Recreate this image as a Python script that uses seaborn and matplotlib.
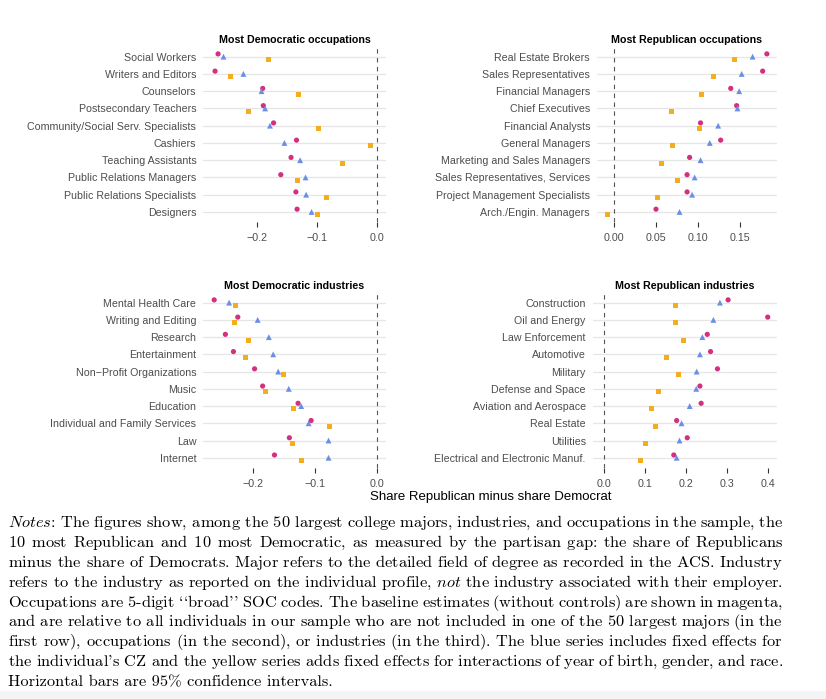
import numpy as np
import pandas as pd
import matplotlib
matplotlib.use("Agg")
import matplotlib.pyplot as plt
import seaborn as sns
from matplotlib.patches import Rectangle

# ---------------- data ----------------
series_names = ["Baseline", "CZ FE", "CZ + demographic FE"]

dem_occ = ["Social Workers", "Writers and Editors", "Counselors", "Postsecondary Teachers",
           "Community/Social Serv. Specialists", "Cashiers", "Teaching Assistants",
           "Public Relations Managers", "Public Relations Specialists", "Designers"]
dem_occ_base = [-0.264, -0.269, -0.190, -0.189, -0.172, -0.134, -0.143, -0.160, -0.135, -0.133]
dem_occ_cz = [-0.255, -0.222, -0.192, -0.186, -0.178, -0.154, -0.128, -0.119, -0.118, -0.109]
dem_occ_demo = [-0.180, -0.244, -0.130, -0.214, -0.097, -0.011, -0.057, -0.133, -0.084, -0.099]

rep_occ = ["Real Estate Brokers", "Sales Representatives", "Financial Managers", "Chief Executives",
           "Financial Analysts", "General Managers", "Marketing and Sales Managers",
           "Sales Representatives, Services", "Project Management Specialists",
           "Arch./Engin. Managers"]
rep_occ_base = [0.182, 0.177, 0.139, 0.146, 0.103, 0.127, 0.090, 0.087, 0.087, 0.050]
rep_occ_cz = [0.165, 0.152, 0.149, 0.147, 0.124, 0.114, 0.103, 0.096, 0.093, 0.078]
rep_occ_demo = [0.143, 0.119, 0.104, 0.069, 0.102, 0.070, 0.057, 0.076, 0.052, -0.008]

dem_ind = ["Mental Health Care", "Writing and Editing", "Research", "Entertainment",
           "Non\u2212Profit Organizations", "Music", "Education",
           "Individual and Family Services", "Law", "Internet"]
dem_ind_base = [-0.262, -0.224, -0.244, -0.231, -0.197, -0.184, -0.127, -0.106, -0.141, -0.165]
dem_ind_cz = [-0.238, -0.192, -0.174, -0.167, -0.159, -0.142, -0.122, -0.110, -0.078, -0.078]
dem_ind_demo = [-0.227, -0.230, -0.206, -0.211, -0.151, -0.180, -0.135, -0.076, -0.136, -0.122]

rep_ind = ["Construction", "Oil and Energy", "Law Enforcement", "Automotive", "Military",
           "Defense and Space", "Aviation and Aerospace", "Real Estate", "Utilities",
           "Electrical and Electronic Manuf."]
rep_ind_base = [0.303, 0.400, 0.252, 0.260, 0.277, 0.234, 0.237, 0.177, 0.203, 0.170]
rep_ind_cz = [0.283, 0.267, 0.240, 0.234, 0.226, 0.225, 0.209, 0.189, 0.184, 0.177]
rep_ind_demo = [0.175, 0.175, 0.195, 0.152, 0.181, 0.132, 0.115, 0.125, 0.100, 0.088]

ticks_dem = [-0.2, -0.1, 0.0]
ticks_rep_occ = [0.00, 0.05, 0.10, 0.15]
ticks_rep_ind = [0.0, 0.1, 0.2, 0.3, 0.4]

titles = ["Most Democratic occupations", "Most Republican occupations",
          "Most Democratic industries", "Most Republican industries"]
xlabel = "Share Republican minus share Democrat"

note_lines = [
    ["$\\mathit{Notes}$:", "The", "figures", "show,", "among", "the", "50", "largest", "college", "majors,",
     "industries,", "and", "occupations", "in", "the", "sample,", "the"],
    "10 most Republican and 10 most Democratic, as measured by the partisan gap: the share of Republicans".split(),
    "minus the share of Democrats. Major refers to the detailed field of degree as recorded in the ACS. Industry".split(),
    ["refers", "to", "the", "industry", "as", "reported", "on", "the", "individual", "profile,",
     "$\\mathit{not}$", "the", "industry", "associated", "with", "their", "employer."],
    "Occupations are 5-digit ``broad'' SOC codes. The baseline estimates (without controls) are shown in magenta,".split(),
    "and are relative to all individuals in our sample who are not included in one of the 50 largest majors (in the".split(),
    "first row), occupations (in the second), or industries (in the third). The blue series includes fixed effects for".split(),
    "the individual's CZ and the yellow series adds fixed effects for interactions of year of birth, gender, and race.".split(),
    "Horizontal bars are 95% confidence intervals.".split(),
]

# ---------------- style ----------------
sns.set_theme(style="white")
plt.rcParams["font.family"] = ["Liberation Sans", "DejaVu Sans"]
plt.rcParams["mathtext.fontset"] = "cm"

W, H = 826, 699
fig = plt.figure(figsize=(W / 100, H / 100), dpi=100)
fig.patch.set_facecolor("white")

palette = {"Baseline": "#D3307F", "CZ FE": "#6B8FE8", "CZ + demographic FE": "#F5AC1E"}
markers = {"Baseline": "o", "CZ FE": "^", "CZ + demographic FE": "s"}
sizes = {"Baseline": 14, "CZ FE": 18, "CZ + demographic FE": 13}
offsets = {"Baseline": -0.16, "CZ FE": 0.0, "CZ + demographic FE": 0.17}

panels = [
    (dem_occ, dem_occ_base, dem_occ_cz, dem_occ_demo, ticks_dem, (-0.289, 0.0144), (203, 386, 46.3, 222.3)),
    (rep_occ, rep_occ_base, rep_occ_cz, rep_occ_demo, ticks_rep_occ, (-0.0206, 0.1937), (596.7, 776.7, 46.3, 222.3)),
    (dem_ind, dem_ind_base, dem_ind_cz, dem_ind_demo, ticks_dem, (-0.280, 0.0145), (203, 386, 292.3, 468.1)),
    (rep_ind, rep_ind_base, rep_ind_cz, rep_ind_demo, ticks_rep_ind, (-0.029, 0.422), (592.5, 776.7, 292.3, 468.1)),
]

label_col = "#4D4D4D"
fs = 7.7

for (cats, b, c, d, ticks, xlim, (x0, x1, yt, yb)), title in zip(panels, titles):
    ax = fig.add_axes([x0 / W, 1 - yb / H, (x1 - x0) / W, (yb - yt) / H])
    rows = []
    for s, vals in zip(series_names, [b, c, d]):
        for i, (cat, v) in enumerate(zip(cats, vals)):
            rows.append({"category": cat, "series": s, "value": v, "pos": i + offsets[s]})
    df = pd.DataFrame(rows)
    ax.axvline(0, color="#555555", lw=0.8, ls=(0, (4, 4)), zorder=1)
    sns.scatterplot(data=df, x="value", y="pos", hue="series", style="series", size="series",
                    palette=palette, markers=markers, sizes=sizes, linewidth=0,
                    legend=False, ax=ax, zorder=3)
    ax.set_yticks(range(len(cats)))
    ax.set_yticklabels(cats)
    ax.set_ylim(len(cats) - 0.4, -0.6)
    ax.set_xlim(*xlim)
    ax.set_xticks(ticks)
    ax.grid(axis="y", color="#E6E6E6", lw=0.9, zorder=0)
    ax.grid(axis="x", visible=False)
    ax.set_axisbelow(True)
    for sp in ax.spines.values():
        sp.set_visible(False)
    ax.tick_params(axis="x", length=3.6, width=0.8, color="#333333", pad=4,
                   labelsize=fs, labelcolor=label_col, bottom=True)
    ax.tick_params(axis="y", length=0, pad=4.8, labelsize=fs, labelcolor=label_col, left=True)
    ax.set_xlabel("")
    ax.set_ylabel("")
    ax.set_title(title, fontsize=fs, fontweight="bold", color="black", pad=2.3)

fig.text(491 / W, 1 - 497 / H, xlabel, fontsize=9.5, color="black", ha="center", va="center")

# light band at the very bottom
fig.patches.append(Rectangle((0, 0), 1, 8 / H, transform=fig.transFigure,
                             facecolor="#F4F4F4", edgecolor="none", zorder=-5))

# ---------------- notes (justified, one text object per line) ----------------
fig.canvas.draw()
renderer = fig.canvas.get_renderer()
nfs = 11.8
Lx, Rx = 8, 783


def text_width(s):
    t = fig.text(0, 0, s, fontsize=nfs, family="cmr10")
    w = t.get_window_extent(renderer).width
    t.remove()
    return w


unit = (text_width("a$\\quad$a") - text_width("a$\\!\\,$a")) / 18.0


def spacer(k):
    if k == 0:
        return ""
    best = None
    for nq in range(0, 4):
        for nn in range(0, 12):
            for nc in range(0, 8):
                for nm in range(0, 4):
                    for nt in range(0, 4):
                        if 18 * nq - 3 * nn + 3 * nc + 4 * nm + 5 * nt == k:
                            tot = nq + nn + nc + nm + nt
                            if best is None or tot < best[0]:
                                best = (tot, nq, nn, nc, nm, nt)
    if best is None:
        return ""
    _, nq, nn, nc, nm, nt = best
    return "$" + "\\quad" * nq + "\\!" * nn + "\\," * nc + "\\:" * nm + "\\;" * nt + "$"


for i, words in enumerate(note_lines):
    yb_px = round(527.0 + i * 19.9)
    base = " ".join(words[:1]) + "".join(" $\\!\\,$" + w for w in words[1:])
    if i < len(note_lines) - 1:
        w_nat = text_width(base)
        K = int(round((Rx - Lx - w_nat) / unit))
        ng = len(words) - 1
        kb, rem = divmod(K, ng)
        parts = [words[0]]
        for j, w in enumerate(words[1:]):
            k = kb + (1 if j < rem else 0)
            parts.append(" " + spacer(k) + w)
        s = "".join(parts)
    else:
        s = " ".join(words)
    fig.text(Lx / W, (H - yb_px) / H, s, fontsize=nfs, family="cmr10",
             ha="left", va="baseline", color="black")

fig.savefig("out.png", dpi=100, facecolor="white")
